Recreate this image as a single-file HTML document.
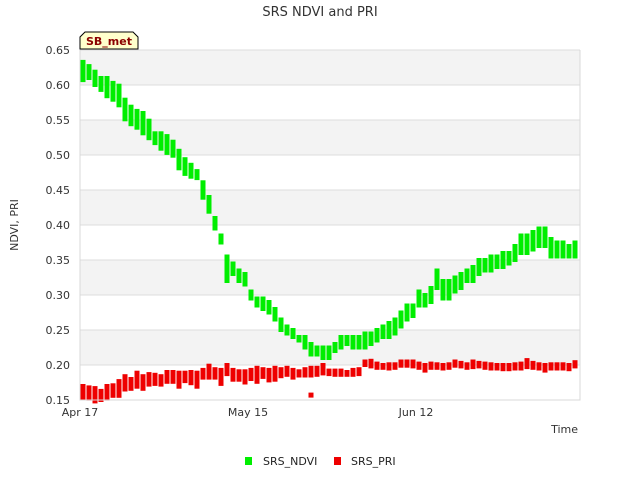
<!DOCTYPE html>
<html><head><meta charset="utf-8"><style>
body{margin:0;background:#fff;font-family:"Liberation Sans","DejaVu Sans",sans-serif;}
svg text{font-family:"DejaVu Sans","Liberation Sans",sans-serif;}
</style></head><body>
<svg id="c" width="640" height="480" xmlns="http://www.w3.org/2000/svg">
<rect width="640" height="480" fill="#fff"/>
<text x="320" y="16" text-anchor="middle" font-size="13" fill="#333">SRS NDVI and PRI</text>
<g id="grid"></g>
<g id="marks"></g>
<g id="axes"></g>
<text transform="translate(18,225) rotate(-90)" text-anchor="middle" font-size="11" fill="#333">NDVI, PRI</text>
<text x="578" y="433" text-anchor="end" font-size="11" fill="#333">Time</text>
<g>
<path d="M80,49 L80,37 L85,32 L133,32 L138,37 L138,49 Z" fill="#ffffcc" stroke="#000" stroke-width="1"/>
<text x="109" y="45" text-anchor="middle" font-size="11" font-weight="bold" fill="#8b0000">SB_met</text>
</g>
<g>
<g><rect x="245" y="457" width="7" height="8" fill="#00ee00"/><text x="263" y="465" font-size="11" fill="#222">SRS_NDVI</text></g>
<g><rect x="334" y="457" width="7" height="8" fill="#ee0000"/><text x="351" y="465" font-size="11" fill="#222">SRS_PRI</text></g>
</g>
</svg>
<script>
const ndviMax=[.633,.627,.619,.610,.610,.603,.599,.579,.569,.563,.560,.549,.531,.531,.527,.519,.506,.494,.486,.477,.461,.440,.41,.385,.355,.345,.335,.33,.305,.295,.295,.29,.28,.265,.255,.25,.24,.24,.23,.225,.225,.225,.23,.24,.24,.24,.24,.245,.245,.25,.255,.26,.265,.275,.285,.285,.305,.30,.31,.335,.32,.32,.325,.33,.335,.34,.35,.35,.355,.355,.36,.36,.37,.385,.385,.39,.395,.395,.38,.375,.375,.37,.375];
const ndviMin=[.607,.610,.600,.593,.584,.579,.571,.551,.544,.539,.531,.524,.517,.509,.503,.499,.481,.473,.469,.467,.439,.419,.395,.375,.32,.33,.32,.315,.295,.285,.28,.275,.265,.25,.245,.24,.235,.225,.215,.215,.21,.21,.22,.225,.23,.225,.225,.225,.23,.235,.24,.24,.245,.255,.265,.27,.285,.285,.29,.31,.295,.295,.305,.31,.32,.32,.33,.335,.335,.34,.34,.345,.35,.36,.36,.365,.37,.37,.355,.355,.355,.355,.355];
const priMax=[.170,.168,.167,.163,.170,.171,.177,.184,.180,.189,.184,.187,.186,.184,.190,.190,.189,.189,.190,.189,.193,.199,.194,.193,.200,.193,.191,.191,.193,.196,.194,.193,.196,.194,.196,.193,.191,.194,.196,.196,.200,.192,.192,.192,.190,.193,.194,.205,.206,.202,.200,.201,.201,.205,.205,.205,.202,.200,.202,.201,.200,.201,.205,.203,.201,.205,.203,.202,.201,.200,.200,.200,.201,.202,.207,.203,.201,.200,.201,.201,.201,.200,.204];
const priMin=[.153,.152,.148,.150,.152,.156,.156,.165,.166,.169,.166,.172,.173,.172,.176,.176,.169,.177,.174,.169,.182,.182,.182,.173,.187,.179,.179,.175,.180,.176,.183,.178,.179,.184,.186,.182,.185,.185,.185,.186,.188,.187,.186,.186,.186,.186,.187,.200,.198,.196,.196,.195,.196,.199,.199,.198,.196,.192,.196,.196,.195,.196,.199,.198,.196,.197,.198,.196,.195,.195,.194,.194,.195,.195,.197,.196,.195,.192,.195,.195,.195,.194,.198];
const priOutlierDay=[38];
const priOutlierVal=[.157];
const yTicks=[0.15,0.20,0.25,0.30,0.35,0.40,0.45,0.50,0.55,0.60,0.65];
const xTickDays=[0,28,56];
const xTickLabels=["Apr 17","May 15","Jun 12"];
const NS="http://www.w3.org/2000/svg";
const L=80,R=580,T=50,B=400,yMin=0.15,yMax=0.65,dayPx=6;
const y=v=>B-(v-yMin)/(yMax-yMin)*(B-T);
const x=d=>L+d*dayPx;
function el(tag,attrs,parent){const e=document.createElementNS(NS,tag);for(const k in attrs)e.setAttribute(k,attrs[k]);parent.appendChild(e);return e;}
const grid=document.getElementById('grid'),marks=document.getElementById('marks'),axes=document.getElementById('axes');
for(let i=0;i<yTicks.length-1;i++){
  if(i%2==1){const r=el('rect',{x:L,y:y(yTicks[i+1]),width:R-L,height:y(yTicks[i])-y(yTicks[i+1]),fill:'#f3f3f3'},grid);
  
  }
}
yTicks.forEach(v=>{
  const g=el('line',{x1:L,x2:R,y1:y(v),y2:y(v),stroke:'#dedede','stroke-width':1},grid);
  
  
  const t=el('text',{x:L-10,y:y(v)+4,'text-anchor':'end','font-size':11,fill:'#333'},axes);
  t.textContent=v.toFixed(2);
  
  
});
const ax=el('path',{d:`M${L},${T} L${L},${B} L${R},${B} L${R},${T}`,fill:'none',stroke:'#d8d8d8','stroke-width':1},axes);


xTickDays.forEach((d,i)=>{
  const t=el('text',{x:x(d),y:416,'text-anchor':'middle','font-size':11,fill:'#333'},axes);
  t.textContent=xTickLabels[i];
  
  
});
function bars(mx,mn,color,name){
  mx.forEach((v,i)=>{
    const top=y(v),bot=y(mn[i]);
    const r=el('rect',{x:x(i)+0.5,y:top-2,width:5,height:Math.max(bot-top,0)+4,fill:color},marks);
    
    
  });
}
bars(ndviMax,ndviMin,'#00ee00','ndvi-point');
bars(priMax,priMin,'#ee0000','pri-point');
priOutlierDay.forEach((d,i)=>{
  const r=el('rect',{x:x(d)+0.5,y:y(priOutlierVal[i])-2.5,width:5,height:5,fill:'#ee0000'},marks);
  
  
});
</script>
</body></html>
